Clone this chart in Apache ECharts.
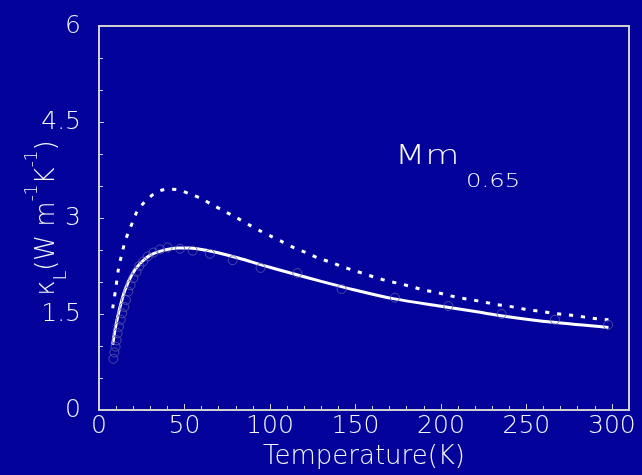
<!DOCTYPE html>
<html>
<head>
<meta charset="utf-8">
<script src="https://cdn.jsdelivr.net/npm/echarts@6/dist/echarts.min.js"></script>
<style>
html,body{margin:0;padding:0;background:#03039c;}
#chart{width:642px;height:475px;}
</style>
</head>
<body>
<div id="chart"></div>
<script>
// Temperature (K) and lattice thermal conductivity kappa_L (W m^-1 K^-1)
const fitT = [8, 9.7, 12.3, 15.2, 19.1, 24, 30, 37, 46, 53, 62, 69, 82, 96, 112, 130, 149, 172, 203, 222, 236, 266, 298];
const fitK = [1.02, 1.30, 1.61, 1.875, 2.11, 2.29, 2.42, 2.49, 2.53, 2.53, 2.50, 2.46, 2.37, 2.26, 2.14, 2.01, 1.88, 1.74, 1.61, 1.53, 1.47, 1.37, 1.29];

const dotT = [8, 9.8, 11.3, 13.8, 15.6, 17.7, 19.9, 22.4, 26.7, 32.4, 39.4, 46.4, 53.2, 60, 66.8, 73.7, 80.5, 87.3, 94.2, 101, 107.8, 114.6, 121.8, 128.7, 135.5, 142.3, 149.1, 156, 163, 169.8, 176.6, 183.8, 190.5, 197, 204.5, 211.5, 218.3, 224.7, 232, 239, 245.8, 252.4, 259.2, 266, 273, 280, 286.7, 293.6, 298];
const dotK = [1.59, 1.90, 2.19, 2.49, 2.66, 2.81, 2.95, 3.11, 3.25, 3.38, 3.45, 3.44, 3.375, 3.30, 3.20, 3.10, 3.005, 2.90, 2.80, 2.71, 2.62, 2.53, 2.45, 2.37, 2.31, 2.24, 2.18, 2.12, 2.06, 2.01, 1.97, 1.92, 1.87, 1.84, 1.79, 1.75, 1.72, 1.69, 1.65, 1.625, 1.59, 1.56, 1.54, 1.51, 1.49, 1.47, 1.44, 1.42, 1.41];

const expT = [8.4, 9.0, 9.7, 10.3, 10.9, 11.7, 12.7, 13.6, 14.8, 15.8, 17.1, 18.5, 20.1, 22, 23.6, 25.9, 28.5, 31.8, 35.7, 40.2, 47.4, 54.8, 64.9, 78.2, 94.5, 116, 141.9, 173.1, 204.3, 235.5, 266.7, 297.8];
const expK = [0.80, 0.90, 0.99, 1.09, 1.20, 1.30, 1.41, 1.51, 1.61, 1.72, 1.85, 1.95, 2.06, 2.16, 2.25, 2.32, 2.40, 2.46, 2.51, 2.54, 2.52, 2.49, 2.44, 2.34, 2.22, 2.14, 1.89, 1.755, 1.625, 1.50, 1.41, 1.33];

const xTickLabels = [0, 50, 100, 150, 200, 250, 300];
const yTickLabels = [0, 1.5, 3, 4.5, 6];
const xMax = 310;

const zip = (a, b) => a.map((v, i) => [v, b[i]]);

const FONT = '"DejaVu Sans", sans-serif';
const FW = 200;
const TXT = '#f6f6f6';
const BORDER = '#cfcfcf';

const chart = echarts.init(document.getElementById('chart'));
chart.setOption({
  backgroundColor: '#03039c',
  animation: false,
  grid: {left: 99, right: 13, top: 26, bottom: 65, containLabel: false, outerBoundsMode: 'none',
    show: true, borderColor: BORDER, borderWidth: 2, backgroundColor: 'transparent'},
  xAxis: [{
    type: 'value', min: xTickLabels[0], max: xMax, interval: xTickLabels[1] - xTickLabels[0],
    name: 'Temperature(K)', nameLocation: 'middle', nameGap: 34, nameMoveOverlap: false,
    nameTextStyle: {color: TXT, fontFamily: FONT, fontWeight: FW, fontSize: 26},
    axisLine: {show: true, lineStyle: {color: BORDER, width: 2}},
    axisTick: {show: true, inside: true, length: 6, lineStyle: {color: BORDER, width: 1}},
    axisLabel: {color: TXT, fontFamily: FONT, fontWeight: FW, fontSize: 25, margin: 4, showMaxLabel: false,
      formatter: v => (xTickLabels.indexOf(v) >= 0 ? String(v) : '')},
    splitLine: {show: false}
  }, {
    type: 'value', min: xTickLabels[0], max: xMax, interval: 10, position: 'bottom',
    axisLine: {show: false},
    axisTick: {show: true, inside: true, length: 4, lineStyle: {color: BORDER, width: 1}},
    axisLabel: {show: false},
    splitLine: {show: false}
  }],
  yAxis: {
    type: 'value', min: yTickLabels[0], max: yTickLabels[yTickLabels.length - 1], interval: yTickLabels[1] - yTickLabels[0],
    name: '{k|κ}{sub|L}{n|(W m}{sup|-1}{n|K}{sup|-1}{n|)}',
    nameLocation: 'middle', nameGap: 29, nameRotate: 90, nameMoveOverlap: false,
    nameTextStyle: {
      color: TXT, fontFamily: FONT, fontWeight: FW, fontSize: 26,
      rich: {
        k: {color: TXT, fontFamily: FONT, fontWeight: FW, fontSize: 26, lineHeight: 46, verticalAlign: 'middle'},
        n: {color: TXT, fontFamily: FONT, fontWeight: FW, fontSize: 26, lineHeight: 46, verticalAlign: 'middle'},
        sub: {color: TXT, fontFamily: FONT, fontWeight: FW, fontSize: 17, lineHeight: 46, verticalAlign: 'bottom'},
        sup: {color: TXT, fontFamily: FONT, fontWeight: FW, fontSize: 17, lineHeight: 46, verticalAlign: 'top'}
      }
    },
    axisLine: {show: true, lineStyle: {color: BORDER, width: 2}},
    axisTick: {show: true, inside: true, length: 5, lineStyle: {color: BORDER, width: 1}},
    minorTick: {show: true, splitNumber: 3, length: 4, lineStyle: {color: BORDER, width: 1}},
    axisLabel: {color: TXT, fontFamily: FONT, fontWeight: FW, fontSize: 25, margin: 18,
      formatter: v => String(v)},
    splitLine: {show: false}
  },
  graphic: [{
    type: 'text', x: 395, y: 157, scaleX: 1.3,
    style: {text: 'Mm', x: 0, y: 0, fill: TXT, font: FW + ' 27px ' + FONT, textAlign: 'left', textVerticalAlign: 'middle'}
  }, {
    type: 'text', x: 466, y: 182, scaleX: 1.28,
    style: {text: '0.65', x: 0, y: 0, fill: TXT, font: FW + ' 19px ' + FONT, textAlign: 'left', textVerticalAlign: 'middle'}
  }],
  series: [{
    type: 'line', data: zip(dotT, dotK), smooth: 0.3, showSymbol: false, z: 3,
    lineStyle: {color: '#ffffff', width: 3, type: [4, 8], cap: 'butt'}
  }, {
    type: 'line', data: zip(fitT, fitK), smooth: 0.3, showSymbol: false, z: 3,
    lineStyle: {color: '#ffffff', width: 3}
  }, {
    type: 'scatter', data: zip(expT, expK), symbol: 'circle', symbolSize: 9, z: 4,
    itemStyle: {color: 'transparent', borderColor: '#5a5aa6', borderWidth: 1}
  }]
});
</script>
</body>
</html>
